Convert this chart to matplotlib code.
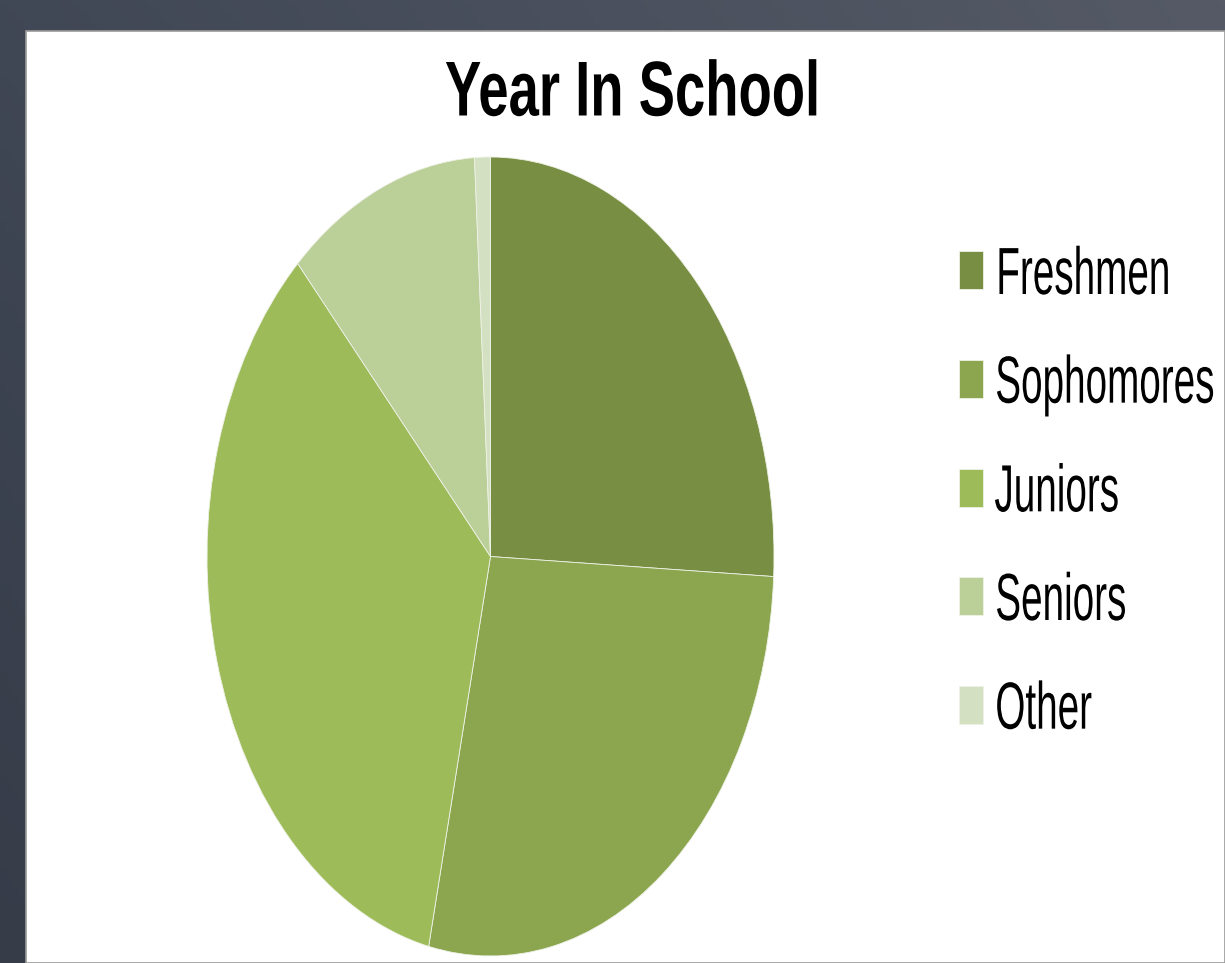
import numpy as np
import matplotlib
matplotlib.use("Agg")
from matplotlib import pyplot as plt
from matplotlib.patches import Rectangle
from matplotlib.patheffects import AbstractPathEffect
from matplotlib.transforms import Affine2D, Bbox

# share of students by year (percent)
labels = ["Freshmen", "Sophomores", "Juniors", "Seniors", "Other"]
shares = [25.8, 27.7, 34.6, 11.0, 0.9]
colors = ["#778e43", "#8ba64f", "#9dbb59", "#bbcf99", "#d4e0c2"]


class Squeeze(AbstractPathEffect):
    """Squeeze text horizontally (the slide was stretched tall)."""

    def __init__(self, sx, anchor="left"):
        super().__init__()
        self.sx = sx
        self.anchor = anchor

    def draw_path(self, renderer, gc, tpath, affine, rgbFace=None):
        ext = tpath.transformed(affine).get_extents()
        x0 = ext.x0 if self.anchor == "left" else (ext.x0 + ext.x1) / 2
        sq = Affine2D().translate(-x0, 0).scale(self.sx, 1).translate(x0, 0)
        renderer.draw_path(gc, tpath, affine + sq, rgbFace)


def squeeze_text(t, sx, anchor="left"):
    t.set_path_effects([Squeeze(sx, anchor)])
    # report the squeezed box too, so extents match what is drawn
    orig = t.get_window_extent

    def extent(renderer=None, dpi=None):
        bb = orig(renderer, dpi)
        x0 = bb.x0 if anchor == "left" else (bb.x0 + bb.x1) / 2
        return Bbox.from_extents(x0 + (bb.x0 - x0) * sx, bb.y0,
                                 x0 + (bb.x1 - x0) * sx, bb.y1)

    t.get_window_extent = extent


W, H = 1225, 963
fig = plt.figure(figsize=(W / 100, H / 100), dpi=100)

# slate backdrop with a soft gradient, white slide area on top
bg = fig.add_axes([0, 0, 1, 1])
xx, yy = np.meshgrid(np.linspace(0, 1, 200), np.linspace(0, 1, 200))
c0 = np.array([64, 71, 85]) / 255
cx = np.array([21, 19, 17]) / 255
cy = np.array([-10, -11, -13]) / 255
grad = c0 + xx[..., None] * cx + yy[..., None] * cy
bg.imshow(np.clip(grad, 0, 1), extent=[0, W, H, 0], aspect="auto")
bg.add_patch(Rectangle((26, 31), W - 26, H - 31, facecolor="white",
                       edgecolor="#9a9a9a", lw=1.2))
bg.set_xlim(0, W)
bg.set_ylim(H, 0)
bg.axis("off")

# pie, stretched vertically like the original
ax = fig.add_axes([207 / W, 7 / H, 567 / W, 799 / H])
wedges, _ = ax.pie(shares, colors=colors, startangle=90, counterclock=False,
                   wedgeprops=dict(edgecolor="#eef2e6", linewidth=0.6))
ax.set_aspect("auto")
ax.set_xlim(-1, 1)
ax.set_ylim(-1, 1)
ax.axis("off")

title = fig.text(633 / W, 1 - 95 / H, "Year In School", ha="center", va="center",
                 fontsize=56, fontweight="bold", family="Liberation Sans")
squeeze_text(title, 0.70, anchor="center")

leg = fig.legend(wedges, labels, loc="upper left", bbox_to_anchor=(959 / W, 1 - 246 / H),
                 frameon=False, borderpad=0, borderaxespad=0,
                 prop=dict(family="Liberation Sans", size=48),
                 handlelength=0.36, handleheight=0.50, handletextpad=0.165,
                 labelspacing=0.70)
for t in leg.get_texts():
    squeeze_text(t, 0.58)

plt.savefig("out.png", dpi=100)
